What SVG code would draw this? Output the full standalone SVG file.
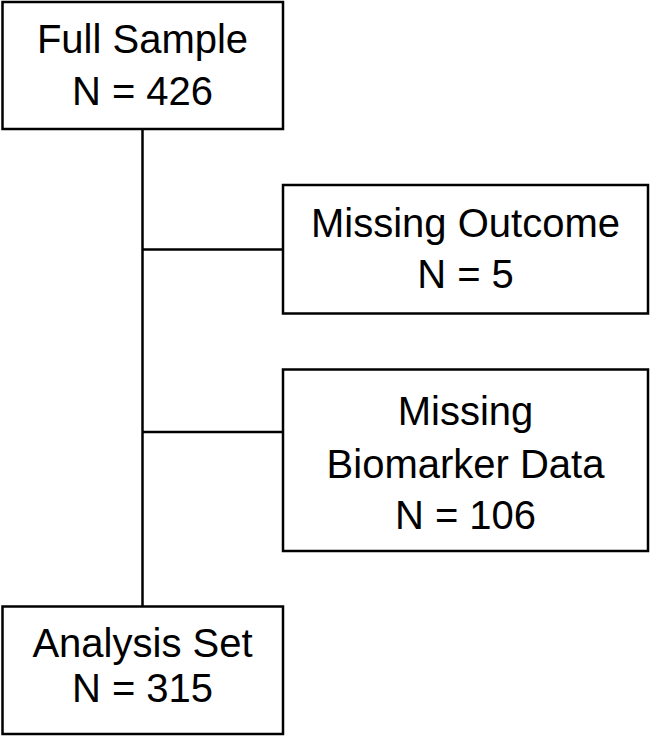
<svg xmlns="http://www.w3.org/2000/svg" width="651" height="736" viewBox="0 0 651 736">
<style>
.box{fill:#fff;stroke:#000;stroke-width:2.5}
.t{font-family:"Liberation Sans",Arial,sans-serif;font-size:40px;fill:#000;text-anchor:middle}
.c{stroke:#000;stroke-width:2.5;fill:none}
</style>
<rect width="651" height="736" fill="#fff"/>
<g id="connectors">
<line class="c" x1="142.5" y1="129" x2="142.5" y2="606"/>
<line class="c" x1="142.5" y1="249.5" x2="283" y2="249.5"/>
<line class="c" x1="142.5" y1="432" x2="283" y2="432"/>
</g>
<g id="full-sample">
<rect class="box" x="2.5" y="2" width="280.5" height="127"/>
<text class="t" x="142.5" y="53">Full Sample</text>
<text class="t" x="142.5" y="105">N = 426</text>
</g>
<g id="missing-outcome">
<rect class="box" x="283" y="185" width="365" height="128.5"/>
<text class="t" x="465.5" y="237">Missing Outcome</text>
<text class="t" x="465.5" y="288">N = 5</text>
</g>
<g id="missing-biomarker">
<rect class="box" x="283" y="369.5" width="365" height="181.5"/>
<text class="t" x="465.5" y="425">Missing</text>
<text class="t" x="465.5" y="477.5">Biomarker Data</text>
<text class="t" x="465.5" y="528.5">N = 106</text>
</g>
<g id="analysis-set">
<rect class="box" x="2.5" y="606.5" width="280.5" height="127.5"/>
<text class="t" x="142.5" y="657">Analysis Set</text>
<text class="t" x="142.5" y="702">N = 315</text>
</g>
</svg>
